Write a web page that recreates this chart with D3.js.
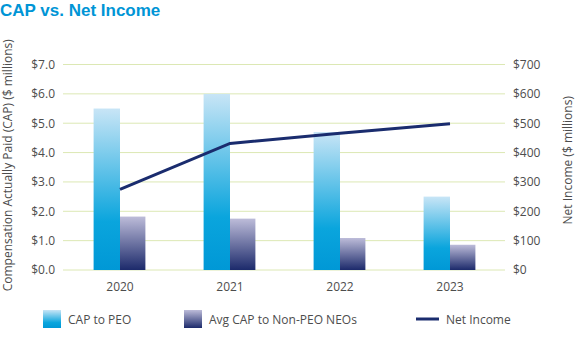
<!DOCTYPE html>
<html>
<head>
<meta charset="utf-8">
<script src="https://cdn.jsdelivr.net/npm/d3@7"></script>
<style>
  body { margin: 0; background: #fff; }
  svg { display: block; font-family: "Open Sans", "Noto Sans", sans-serif; }
</style>
</head>
<body>
<div id="chart"></div>
<script>
const years = ['2020', '2021', '2022', '2023'];
const capPeo = [5.5, 6.0, 4.7, 2.5];
const capNeo = [1.82, 1.75, 1.09, 0.86];
const netIncome = [275, 431, 466, 498];
const leftTicks = [0, 1, 2, 3, 4, 5, 6, 7];
const rightTicks = [0, 100, 200, 300, 400, 500, 600, 700];

const width = 575;
const height = 342;
const plot = { left: 65, right: 505, top: 64.5, bottom: 270 };

const svg = d3.select("#chart")
  .append("svg")
  .attr("width", width)
  .attr("height", height);

const defs = svg.append("defs");

const peoGrad = defs.append("linearGradient")
  .attr("id", "peoGrad")
  .attr("x1", 0).attr("y1", 0).attr("x2", 0).attr("y2", 1);
peoGrad.append("stop").attr("offset", "0%").attr("stop-color", "#c8e5f6");
peoGrad.append("stop").attr("offset", "70%").attr("stop-color", "#0aa5dd");
peoGrad.append("stop").attr("offset", "100%").attr("stop-color", "#0098d6");

const neoGrad = defs.append("linearGradient")
  .attr("id", "neoGrad")
  .attr("x1", 0).attr("y1", 0).attr("x2", 0).attr("y2", 1);
neoGrad.append("stop").attr("offset", "0%").attr("stop-color", "#bdbcd9");
neoGrad.append("stop").attr("offset", "100%").attr("stop-color", "#1c2a6b");

const x0 = d3.scaleBand()
  .domain(years)
  .range([plot.left, plot.right])
  .paddingInner(0.52)
  .paddingOuter(0.26);

const x1 = d3.scaleBand()
  .domain(['peo', 'neo'])
  .range([0, x0.bandwidth()]);

const yLeft = d3.scaleLinear().domain([0, 7]).range([plot.bottom, plot.top]);
const yRight = d3.scaleLinear().domain([0, 700]).range([plot.bottom, plot.top]);

// gridlines
svg.append("g")
  .selectAll("line")
  .data(leftTicks)
  .enter()
  .append("line")
  .attr("x1", plot.left - 2)
  .attr("x2", plot.right)
  .attr("y1", d => yLeft(d))
  .attr("y2", d => yLeft(d))
  .attr("stroke", "#dce8b4")
  .attr("stroke-width", 1);

// left axis
const leftAxis = svg.append("g")
  .attr("transform", `translate(${plot.left - 10},0)`)
  .call(d3.axisLeft(yLeft).tickValues(leftTicks).tickSize(0).tickPadding(0)
    .tickFormat(d => "$" + d3.format(".1f")(d)));
leftAxis.select(".domain").remove();

// right axis
const rightAxis = svg.append("g")
  .attr("transform", `translate(${plot.right + 8},0)`)
  .call(d3.axisRight(yRight).tickValues(rightTicks).tickSize(0).tickPadding(0)
    .tickFormat(d => "$" + d));
rightAxis.select(".domain").remove();

// x axis
const xAxis = svg.append("g")
  .attr("transform", `translate(0,${plot.bottom + 8})`)
  .call(d3.axisBottom(x0).tickSize(0).tickPadding(4));
xAxis.select(".domain").remove();

svg.selectAll(".tick text")
  .style("fill", "#4d4d4d")
  .style("font-size", "12px")
  .style("font-family", "'Open Sans', sans-serif");

// bars
const groups = svg.append("g")
  .selectAll("g")
  .data(years)
  .enter()
  .append("g")
  .attr("transform", d => `translate(${x0(d)},0)`);

groups.append("rect")
  .attr("x", x1('peo'))
  .attr("y", (d, i) => yLeft(capPeo[i]))
  .attr("width", x1.bandwidth())
  .attr("height", (d, i) => plot.bottom - yLeft(capPeo[i]))
  .attr("fill", "url(#peoGrad)");

groups.append("rect")
  .attr("x", x1('neo'))
  .attr("y", (d, i) => yLeft(capNeo[i]))
  .attr("width", x1.bandwidth() - 1)
  .attr("height", (d, i) => plot.bottom - yLeft(capNeo[i]))
  .attr("fill", "url(#neoGrad)");

// net income line
const line = d3.line()
  .x((d, i) => x0(years[i]) + x0.bandwidth() / 2)
  .y(d => yRight(d));

svg.append("path")
  .datum(netIncome)
  .attr("d", line)
  .attr("fill", "none")
  .attr("stroke", "#1a2c6e")
  .attr("stroke-width", 3);

// title
svg.append("text")
  .attr("x", 0)
  .attr("y", 15.5)
  .style("font-family", "'Liberation Sans', Arial, sans-serif")
  .style("font-size", "17px")
  .style("font-weight", "bold")
  .style("fill", "#0095d6")
  .text("CAP vs. Net Income");

// axis titles
svg.append("text")
  .attr("transform", `translate(12,${(plot.top + plot.bottom) / 2 - 2}) rotate(-90)`)
  .attr("text-anchor", "middle")
  .style("font-size", "12px")
  .style("fill", "#4d4d4d")
  .text("Compensation Actually Paid (CAP) ($ millions)");

svg.append("text")
  .attr("transform", `translate(572,${(plot.top + plot.bottom) / 2 - 7}) rotate(-90)`)
  .attr("text-anchor", "middle")
  .style("font-size", "12px")
  .style("fill", "#4d4d4d")
  .text("Net Income ($ millions)");

// legend
const legendY = 319;
const legendItems = [
  { label: "CAP to PEO", type: "rect", fill: "url(#peoGrad)", x: 43 },
  { label: "Avg CAP to Non-PEO NEOs", type: "rect", fill: "url(#neoGrad)", x: 184 },
  { label: "Net Income", type: "line", x: 416 }
];

const legend = svg.append("g");
legendItems.forEach(item => {
  const g = legend.append("g").attr("transform", `translate(${item.x},${legendY})`);
  if (item.type === "rect") {
    g.append("rect")
      .attr("x", 0).attr("y", -9)
      .attr("width", 18).attr("height", 18)
      .attr("fill", item.fill);
    g.append("text")
      .attr("x", 25).attr("y", 4.5)
      .style("font-size", "12px")
      .style("fill", "#4d4d4d")
      .text(item.label);
  } else {
    g.append("line")
      .attr("x1", 0).attr("x2", 23)
      .attr("y1", 0).attr("y2", 0)
      .attr("stroke", "#1a2c6e")
      .attr("stroke-width", 3);
    g.append("text")
      .attr("x", 30).attr("y", 4.5)
      .style("font-size", "12px")
      .style("fill", "#4d4d4d")
      .text(item.label);
  }
});
</script>
</body>
</html>
